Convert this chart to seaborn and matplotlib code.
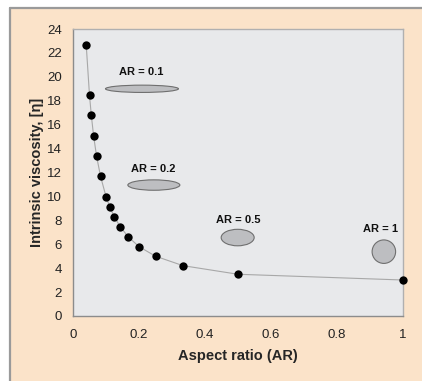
import matplotlib
matplotlib.use("Agg")
import matplotlib.pyplot as plt
import seaborn as sns
import pandas as pd
from matplotlib.patches import Ellipse, Rectangle

# Data
aspect_ratio = [1/25, 1/20, 1/18, 1/16, 1/14, 1/12, 1/10, 1/9, 1/8, 1/7, 1/6, 1/5, 1/4, 1/3, 1/2, 1.0]
viscosity = [22.69, 18.45, 16.77, 15.04, 13.37, 11.69, 9.99, 9.15, 8.29, 7.48, 6.64, 5.80, 5.00, 4.21, 3.49, 3.01]
x_ticks = [0, 0.2, 0.4, 0.6, 0.8, 1]
x_tick_labels = ["0", "0.2", "0.4", "0.6", "0.8", "1"]
y_ticks = list(range(0, 25, 2))
shape_labels = ["AR = 0.1", "AR = 0.2", "AR = 0.5", "AR = 1"]
shape_ar = [0.1, 0.2, 0.5, 1.0]

df = pd.DataFrame({"ar": aspect_ratio, "eta": viscosity})

sns.set_style("white")
plt.rcParams["font.family"] = ["Liberation Sans", "DejaVu Sans"]

W, H = 422, 381
fig = plt.figure(figsize=(W / 100, H / 100), dpi=100)
fig.patch.set_facecolor("white")

# beige panel with gray border on left/top
fig.add_artist(Rectangle((10 / W, 0), 1 - 10 / W, 1 - 8 / H, transform=fig.transFigure,
                         facecolor="#FBE3C9", edgecolor="none", zorder=-10))
fig.add_artist(plt.Line2D([10 / W, 10 / W], [0, 1 - 8 / H], transform=fig.transFigure,
                          color="#9a9a9a", lw=1.6, zorder=-9))
fig.add_artist(plt.Line2D([10 / W, 1], [1 - 8 / H, 1 - 8 / H], transform=fig.transFigure,
                          color="#9a9a9a", lw=1.6, zorder=-9))

left, right, top, bottom = 73, 403, 29, 316
ax = fig.add_axes([left / W, 1 - bottom / H, (right - left) / W, (bottom - top) / H])
ax.set_zorder(1)
ax.set_facecolor("#E8E9EB")

sns.lineplot(data=df, x="ar", y="eta", ax=ax, color="#a8a8a8", lw=0.8, zorder=2)
sns.scatterplot(data=df, x="ar", y="eta", ax=ax, color="black", s=36, edgecolor="black",
                linewidth=0, zorder=3, clip_on=False)

ax.set_xlim(0, 1)
ax.set_ylim(0, 24)
ax.set_xticks(x_ticks)
ax.set_xticklabels(x_tick_labels)
ax.set_yticks(y_ticks)

for s in ax.spines.values():
    s.set_color("#b0b0b0")
    s.set_linewidth(1.0)
ax.spines["left"].set_color("#8c8c8c")
ax.spines["bottom"].set_color("#8c8c8c")
ax.tick_params(axis="both", direction="out", length=3, width=0.8, color="#8c8c8c",
               labelsize=9.5, labelcolor="#222222")
ax.tick_params(axis="x", pad=6)
ax.tick_params(axis="y", pad=5)

ax.set_xlabel("Aspect ratio (AR)", fontsize=10.5, fontweight="bold", labelpad=6)
ax.set_ylabel("Intrinsic viscosity, [η]", fontsize=10.5, fontweight="bold", labelpad=2)

# shapes (positions/sizes are layout, not data)
px_x = (right - left)  # pixels per x unit
px_y = (bottom - top) / 24.0  # pixels per y unit
shape_centers = [(0.209, 19.0), (0.245, 10.95), (0.499, 6.56), (0.942, 5.38)]
shape_width_px = [73, 52, 33, 23.5]
label_pos = [(0.208, 20.4), (0.243, 12.28), (0.502, 8.04), (0.931, 7.26)]
for lab, ar_, (cx, cy), wpx, (lx, ly) in zip(shape_labels, shape_ar, shape_centers, shape_width_px, label_pos):
    e = Ellipse((cx, cy), wpx / px_x, wpx * ar_ / px_y, facecolor="#BDBEC1",
                edgecolor="#6f6f6f", lw=0.8, zorder=2)
    ax.add_patch(e)
    ax.text(lx, ly, lab, ha="center", va="center", fontsize=8, fontweight="bold", color="#111111")

fig.savefig("out.png", dpi=100, facecolor=fig.get_facecolor())
